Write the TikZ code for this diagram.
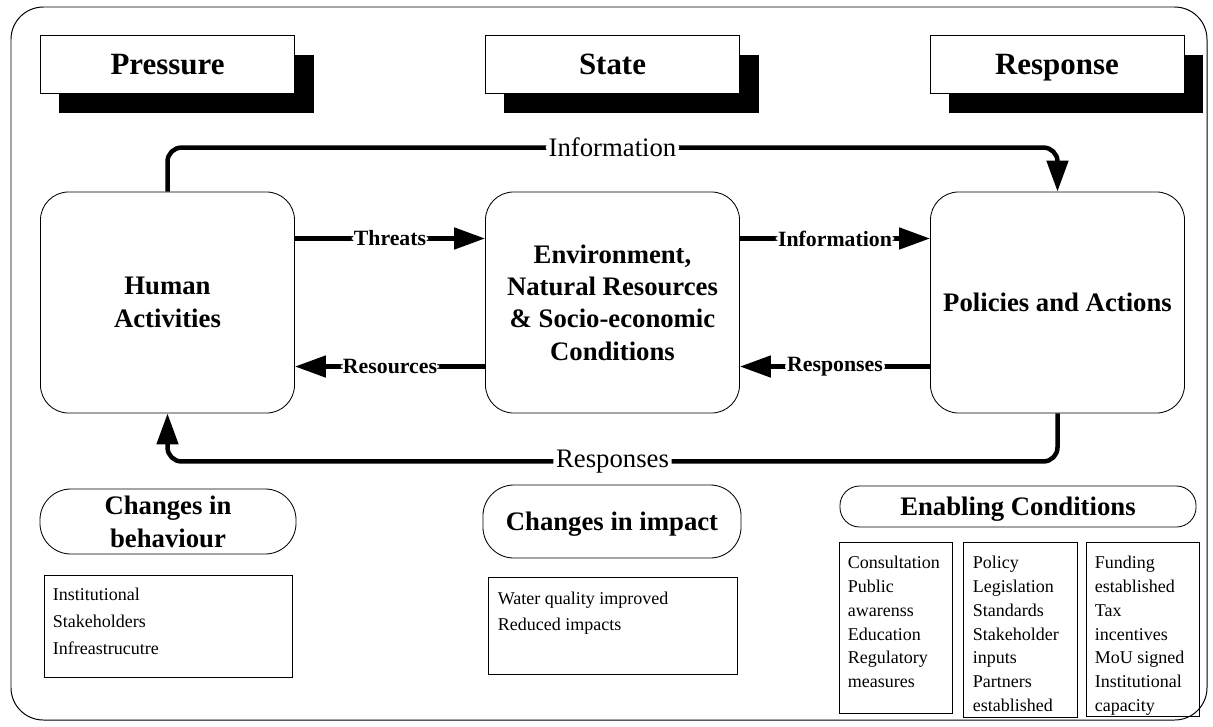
\documentclass[tikz,border=0pt]{standalone}
\usepackage{fontspec}
\setmainfont{Liberation Serif}
\usetikzlibrary{arrows.meta,shadows}

\tikzset{
  headbox/.style={draw, line width=0.6pt, fill=white, minimum width=6.35cm, minimum height=1.45cm,
    text height=16.6pt, text depth=2pt, font=\fontsize{22}{26}\selectfont\bfseries,
    drop shadow={shadow xshift=0.475cm, shadow yshift=-0.5cm, fill=black, opacity=1}},
  mainbox/.style={draw, line width=0.6pt, rounded corners=20pt, minimum width=6.35cm, minimum height=5.525cm,
    align=center, font=\fontsize{19}{23}\selectfont\bfseries},
  pill/.style={draw, line width=0.6pt, inner sep=2pt, align=center, font=\fontsize{19}{23.5}\selectfont\bfseries},
  oneline/.style={text height=14.6pt, text depth=2pt},
  listbox/.style={draw, line width=0.6pt},
  listtext/.style={anchor=north west, inner sep=0pt, align=left},
  flow/.style={line width=3.2pt, rounded corners=10pt, -{Triangle[length=22pt,width=15pt]}},
  flowlab/.style={fill=white, inner sep=2pt, font=\fontsize{19}{23}\selectfont},
  linklab/.style={fill=white, inner sep=1.5pt, font=\fontsize{15.5}{18}\selectfont\bfseries}
}

\begin{document}
\begin{tikzpicture}[x=0.025cm, y=-0.025cm]
\useasboundingbox (0,0) rectangle (1213,726);

% outer frame
\draw[line width=0.7pt, rounded corners=23pt] (11,7) rectangle (1207,720);

% column headings
\node[headbox] (pressure) at (167.5,64) {Pressure};
\node[headbox] (state) at (612.5,64) {State};
\node[headbox] (response) at (1057,64) {Response};

% main boxes
\node[mainbox] (human) at (167.5,302.5) {Human\\Activities};
\node[mainbox] (env) at (612.5,302.5) {Environment,\\Natural Resources\\\& Socio-economic\\Conditions};
\node[mainbox] (policies) at (1057.5,302.5) {Policies and Actions};

% outer loop
\draw[flow] (human.north) -- ++(0,-44) -| node[pos=0.25, flowlab]{Information} (policies.north);
\draw[flow] (policies.south) -- ++(0,48) -| node[pos=0.25, flowlab]{Responses} (human.south);

% links between boxes
\draw[flow] ([yshift=1.6cm]human.east) -- node[linklab]{Threats} ([yshift=1.6cm]env.west);
\draw[flow] ([yshift=-1.6cm]env.west) -- node[linklab]{Resources} ([yshift=-1.6cm]human.east);
\draw[flow] ([yshift=1.6cm]env.east) -- node[linklab]{Information} ([yshift=1.6cm]policies.west);
\draw[flow] ([yshift=-1.6cm]policies.west) -- node[linklab]{Responses} ([yshift=-1.6cm]env.east);

% changes in behaviour
\node[pill, rounded corners=22pt, minimum width=6.4cm, minimum height=1.625cm] (behaviour) at (168,521.5) {Changes in\\behaviour};
\node[listbox, minimum width=6.2cm, minimum height=2.55cm] (behbox) at (168,626) {};
\node[listtext, font=\fontsize{12.8}{19.2}\selectfont] (behtext) at ([xshift=0.225cm, yshift=-0.325cm]behbox.north west)
  {Institutional\\Stakeholders\\Infreastrucutre};

% changes in impact
\node[pill, oneline, rounded corners=22pt, minimum width=6.45cm, minimum height=1.825cm] (impact) at (612,521.5) {Changes in impact};
\node[listbox, minimum width=6.225cm, minimum height=2.425cm] (impbox) at (612.5,625.5) {};
\node[listtext, font=\fontsize{12.8}{18.5}\selectfont] (imptext) at ([xshift=0.25cm, yshift=-0.375cm]impbox.north west)
  {Water quality improved\\Reduced impacts};

% enabling conditions
\node[pill, oneline, rounded corners=14pt, minimum width=8.9cm, minimum height=1.025cm] (enabling) at (1018,506.5) {Enabling Conditions};
\node[listbox, minimum width=2.825cm, minimum height=4.275cm] (enbox1) at (895.5,627.5) {};
\node[listbox, minimum width=2.85cm, minimum height=4.375cm] (enbox2) at (1020,629.5) {};
\node[listbox, minimum width=2.825cm, minimum height=4.35cm] (enbox3) at (1142.5,629) {};
\node[listtext, font=\fontsize{12.8}{17}\selectfont] (entext1) at ([xshift=0.225cm, yshift=-0.35cm]enbox1.north west)
  {Consultation\\Public\\awarenss\\Education\\Regulatory\\measures};
\node[listtext, font=\fontsize{12.8}{17}\selectfont] (entext2) at ([xshift=0.25cm, yshift=-0.35cm]enbox2.north west)
  {Policy\\Legislation\\Standards\\Stakeholder\\inputs\\Partners\\established};
\node[listtext, font=\fontsize{12.8}{17}\selectfont] (entext3) at ([xshift=0.225cm, yshift=-0.35cm]enbox3.north west)
  {Funding\\established\\Tax\\incentives\\MoU signed\\Institutional\\capacity};
\end{tikzpicture}
\end{document}
